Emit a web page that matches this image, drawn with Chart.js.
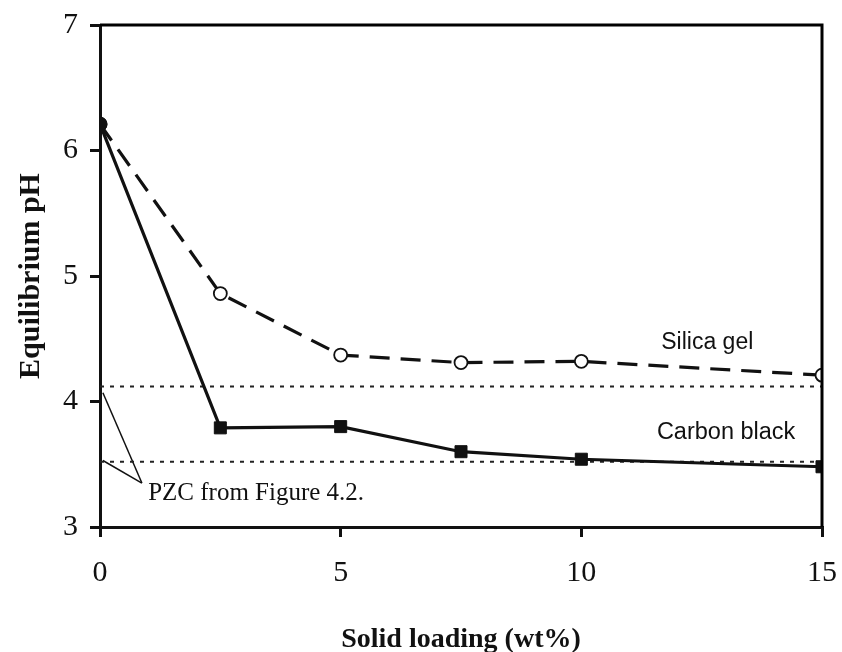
<!DOCTYPE html>
<html>
<head>
<meta charset="utf-8">
<script src="https://cdn.jsdelivr.net/npm/chart.js@4"></script>
<style>
html,body{margin:0;padding:0;background:#fff;}
#wrap{width:842px;height:652px;}
</style>
</head>
<body>
<div id="wrap"><canvas id="c" width="842" height="652"></canvas></div>
<script>
// Data
const loading = [0, 2.5, 5, 7.5, 10, 15];
const silicaGel = [6.21, 4.86, 4.37, 4.31, 4.32, 4.21];
const carbonBlack = [6.21, 3.79, 3.80, 3.60, 3.54, 3.48];
const pzcSilica = 4.12;
const pzcCarbon = 3.52;
const xTicks = [0, 5, 10, 15];
const yTicks = [3, 4, 5, 6, 7];

// annotation anchors (data units)
const calloutUpper = [{x:0.06,y:4.07},{x:0.87,y:3.35}];
const calloutLower = [{x:0.06,y:3.53},{x:0.87,y:3.35}];
const textLabels = [
  {text:'Silica gel', x:11.66, y:4.47, font:'23px "Liberation Sans", Arial, sans-serif'},
  {text:'Carbon black', x:11.57, y:3.75, font:'23.5px "Liberation Sans", Arial, sans-serif'},
  {text:'PZC from Figure 4.2.', x:1.00, y:3.27, font:'25px "Liberation Serif", "Times New Roman", serif'}
];

const serif = '"Liberation Serif", "Times New Roman", serif';

const frame = {
  id:'frame',
  afterDatasetsDraw(chart){
    const {ctx, chartArea:a, scales} = chart;
    ctx.save();
    ctx.strokeStyle='#000'; ctx.lineWidth=3;
    ctx.beginPath();
    ctx.moveTo(a.left, a.top); ctx.lineTo(a.right, a.top); ctx.lineTo(a.right, a.bottom);
    ctx.stroke();
    ctx.fillStyle='#111'; ctx.textBaseline='middle'; ctx.textAlign='left';
    textLabels.forEach(t=>{
      ctx.font=t.font;
      ctx.fillText(t.text, scales.x.getPixelForValue(t.x), scales.y.getPixelForValue(t.y));
    });
    ctx.restore();
  }
};

new Chart(document.getElementById('c'), {
  type:'scatter',
  data:{
    datasets:[
      {label:'Carbon black', data:loading.map((x,i)=>({x, y:carbonBlack[i]})), showLine:true,
        borderColor:'#111', borderWidth:3.2,
        pointStyle:loading.map((x,i)=> i===0 ? 'circle' : 'rect'),
        pointRadius:loading.map((x,i)=> i===0 ? 7 : 8.5), pointBorderWidth:1, pointBackgroundColor:'#111', pointBorderColor:'#111'},
      {label:'Silica gel', data:loading.map((x,i)=>({x, y:silicaGel[i]})), showLine:true,
        borderColor:'#111', borderWidth:3.2, borderDash:[20,11],
        pointStyle:'circle', pointRadius:6.5, pointBorderWidth:1.8, pointBackgroundColor:'#fff', pointBorderColor:'#111'},
      {label:'pzcSilica', data:[{x:0,y:pzcSilica},{x:15,y:pzcSilica}], showLine:true, borderColor:'#222', borderWidth:2, borderDash:[4,6], pointRadius:0},
      {label:'pzcCarbon', data:[{x:0,y:pzcCarbon},{x:15,y:pzcCarbon}], showLine:true, borderColor:'#222', borderWidth:2, borderDash:[4,6], pointRadius:0},
      {label:'c1', data:calloutUpper, showLine:true, borderColor:'#111', borderWidth:1.5, pointRadius:0},
      {label:'c2', data:calloutLower, showLine:true, borderColor:'#111', borderWidth:1.5, pointRadius:0}
    ]
  },
  options:{
    responsive:false, animation:false,
    layout:{padding:{top:25,right:20,left:0,bottom:0}},
    plugins:{legend:{display:false}, tooltip:{enabled:false}},
    elements:{line:{tension:0}},
    scales:{
      x:{
        type:'linear', min:0, max:15,
        afterBuildTicks(s){ s.ticks = xTicks.map(v=>({value:v})); },
        afterFit(s){ s.height = 125; s.paddingLeft = 0; s.paddingRight = 0; },
        grid:{drawOnChartArea:false, drawTicks:true, tickLength:10, color:'#111', lineWidth:3},
        border:{display:true, color:'#111', width:3},
        ticks:{color:'#111', font:{family:serif, size:30}, padding:18, maxRotation:0},
        title:{display:true, text:'Solid loading (wt%)', color:'#111', font:{family:serif, size:28, weight:'bold'}, padding:{top:0,bottom:-5}}
      },
      y:{
        type:'linear', min:3, max:7,
        afterBuildTicks(s){ s.ticks = yTicks.map(v=>({value:v})); },
        afterFit(s){ s.width = 100; s.paddingTop = 0; s.paddingBottom = 0; },
        grid:{drawOnChartArea:false, drawTicks:true, tickLength:10, color:'#111', lineWidth:3},
        border:{display:true, color:'#111', width:3},
        ticks:{color:'#111', font:{family:serif, size:30}, padding:12},
        title:{display:true, text:'Equilibrium pH', color:'#111', font:{family:serif, size:30, weight:'bold'}, padding:{top:13,bottom:0}}
      }
    }
  },
  plugins:[frame]
});
</script>
</body>
</html>
